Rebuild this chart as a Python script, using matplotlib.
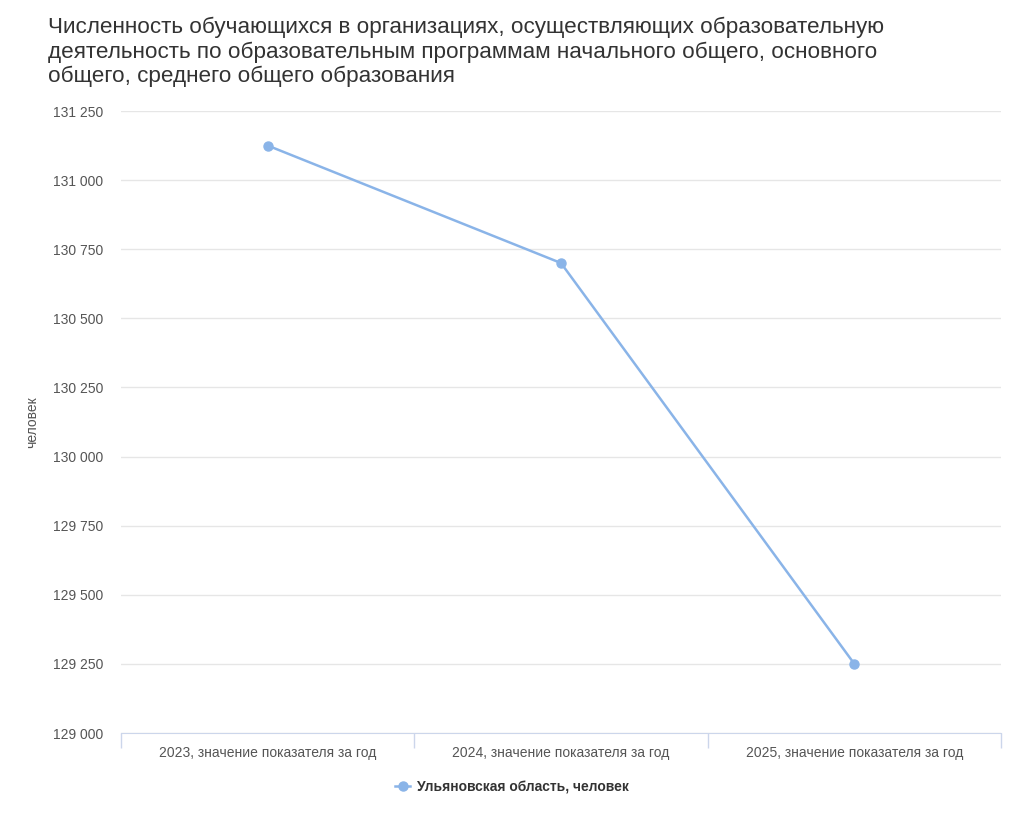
import matplotlib
matplotlib.use('Agg')
import matplotlib.pyplot as plt
from matplotlib.ticker import FuncFormatter, FixedLocator

years = ['2023, значение показателя за год',
         '2024, значение показателя за год',
         '2025, значение показателя за год']
values = [131125, 130700, 129250]
series_name = 'Ульяновская область, человек'
title = ('Численность обучающихся в организациях, осуществляющих образовательную\n'
         'деятельность по образовательным программам начального общего, основного\n'
         'общего, среднего общего образования')

plt.rcParams['font.family'] = ['Liberation Sans', 'DejaVu Sans']

fig = plt.figure(figsize=(10.24, 8.13), dpi=100)
ax = fig.add_axes([121/1024, 1 - 733/813, 880/1024, 622/813])

line_color = '#8ab4e8'
x = list(range(len(values)))
ax.plot(x, values, color=line_color, linewidth=1.8, marker='o', markersize=6.5,
        label=series_name)

ax.set_xlim(-0.5, len(values) - 0.5)
ax.set_ylim(129000, 131250)
ax.set_yticks(range(129000, 131251, 250))
ax.yaxis.set_major_formatter(FuncFormatter(lambda v, p: f'{int(v):,}'.replace(',', ' ')))
ax.grid(axis='y', color='#e6e6e6', linewidth=1)
ax.set_axisbelow(True)

ax.set_xticks(x)
ax.set_xticklabels(years)
ax.xaxis.set_minor_locator(FixedLocator([i - 0.5 for i in range(len(values) + 1)]))
ax.tick_params(axis='x', which='major', length=0, pad=9, labelsize=10, labelcolor='#555555')
ax.tick_params(axis='x', which='minor', length=11, color='#ccd6eb', width=1)
ax.tick_params(axis='y', length=0, pad=13, labelsize=10, labelcolor='#555555')

for s in ['top', 'right', 'left']:
    ax.spines[s].set_visible(False)
ax.spines['bottom'].set_color('#ccd6eb')

ax.set_ylabel('человек', fontsize=10, color='#555555', labelpad=10)

fig.text(48/1024, 1 - 17/813, title, ha='left', va='top', fontsize=16.2,
         color='#333333', linespacing=1.2)

fig.legend(loc='center', bbox_to_anchor=(0.5, 1 - 787/813), frameon=False,
           prop={'weight': 'bold', 'size': 10}, handlelength=1.1, handletextpad=0.5,
           labelcolor='#333333')

fig.savefig('out.png', dpi=100, facecolor='white')
